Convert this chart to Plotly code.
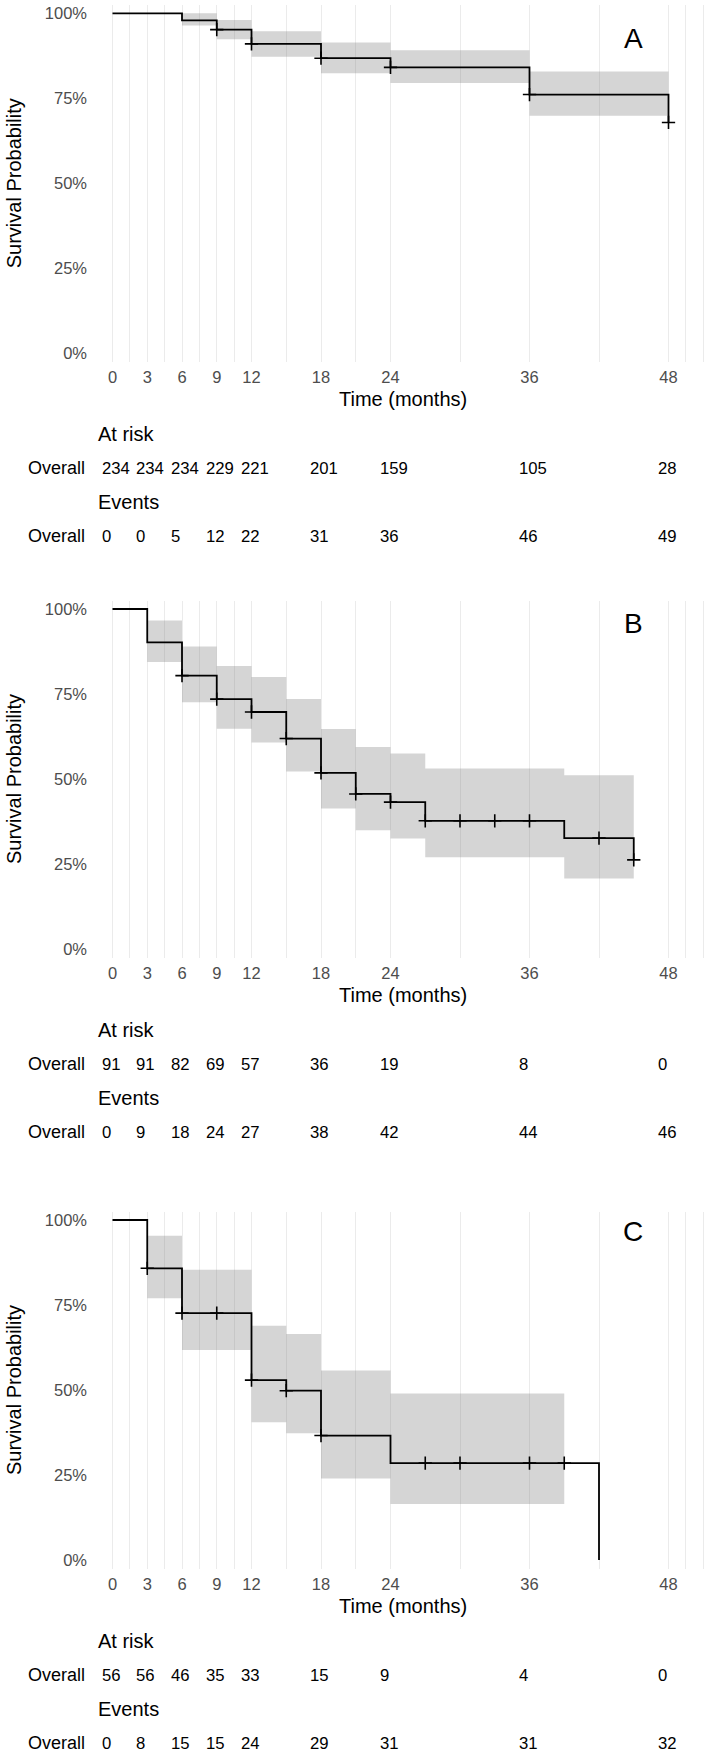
import plotly.graph_objects as go

W, H = 709, 1753

# ---------------- data ----------------
table_times = [0, 3, 6, 9, 12, 18, 24, 36, 48]
major_breaks = [0, 3, 6, 9, 12, 18, 24, 36, 48]
minor_breaks = [1.5, 4.5, 7.5, 10.5, 15, 21, 30, 42, 49.5, 51]
y_ticks = [0, 0.25, 0.5, 0.75, 1.0]
y_ticktext = ["0%", "25%", "50%", "75%", "100%"]

# Panel A
a_time = [0, 6, 9, 12, 18, 24, 36, 48]
a_surv = [1.0, 0.979, 0.952, 0.910, 0.868, 0.841, 0.761, 0.679]
a_ci_time = [6, 9, 12, 18, 24, 36]
a_ci_upper = [1.0, 0.980, 0.947, 0.914, 0.891, 0.829]
a_ci_lower = [0.964, 0.924, 0.872, 0.824, 0.795, 0.699]
a_ci_end = 48
a_censor = [9, 12, 18, 24, 36, 48]
a_risk = [234, 234, 234, 229, 221, 201, 159, 105, 28]
a_events = [0, 0, 5, 12, 22, 31, 36, 46, 49]

# Panel B
b_time = [0, 3, 6, 9, 12, 15, 18, 21, 24, 27, 39, 45]
b_surv = [1.0, 0.902, 0.804, 0.735, 0.697, 0.619, 0.518, 0.456, 0.432, 0.377, 0.326, 0.262]
b_ci_time = [3, 6, 9, 12, 15, 18, 21, 24, 27, 39]
b_ci_upper = [0.966, 0.890, 0.832, 0.800, 0.735, 0.647, 0.594, 0.575, 0.531, 0.511]
b_ci_lower = [0.844, 0.726, 0.648, 0.607, 0.522, 0.413, 0.349, 0.325, 0.270, 0.207]
b_ci_end = 45
b_censor = [6, 9, 12, 15, 18, 21, 24, 27, 30, 33, 36, 42, 45]
b_risk = [91, 91, 82, 69, 57, 36, 19, 8, 0]
b_events = [0, 9, 18, 24, 27, 38, 42, 44, 46]

# Panel C
c_time = [0, 3, 6, 12, 15, 18, 24, 42]
c_surv = [1.0, 0.858, 0.726, 0.529, 0.498, 0.366, 0.285, 0.0]
c_ci_time = [3, 6, 12, 15, 18, 24]
c_ci_upper = [0.954, 0.854, 0.689, 0.665, 0.557, 0.490]
c_ci_lower = [0.770, 0.618, 0.405, 0.373, 0.240, 0.165]
c_ci_end = 39
c_censor = [3, 6, 9, 12, 15, 18, 27, 30, 36, 39]
c_risk = [56, 56, 46, 35, 33, 15, 9, 4, 0]
c_events = [0, 8, 15, 15, 24, 29, 31, 31, 32]

panel_labels = ["A", "B", "C"]

panels = [
    dict(time=a_time, surv=a_surv, ci_time=a_ci_time, ci_upper=a_ci_upper, ci_lower=a_ci_lower,
         ci_end=a_ci_end, censor=a_censor, risk=a_risk, events=a_events),
    dict(time=b_time, surv=b_surv, ci_time=b_ci_time, ci_upper=b_ci_upper, ci_lower=b_ci_lower,
         ci_end=b_ci_end, censor=b_censor, risk=b_risk, events=b_events),
    dict(time=c_time, surv=c_surv, ci_time=c_ci_time, ci_upper=c_ci_upper, ci_lower=c_ci_lower,
         ci_end=c_ci_end, censor=c_censor, risk=c_risk, events=c_events),
]

# ---------------- layout constants ----------------
FONT = "Liberation Sans, Arial, Helvetica, sans-serif"
panel_y100 = [13.3, 609.0, 1220.0]   # pixel row of the 100% level in each panel
PX_PER_UNIT = 340.0                  # pixels from 0% to 100%
Y_LO, Y_HI = -0.025, 1.025
PLOT_LEFT = 97.0
X0_PX, X48_PX = 112.5, 668.5
px_per_month = (X48_PX - X0_PX) / 48.0
X_LO = -(X0_PX - PLOT_LEFT) / px_per_month
X_HI = (W - X0_PX) / px_per_month
GRID = "#EBEBEB"
TICK_COL = "#4D4D4D"


def step_at(times, surv, t):
    v = surv[0]
    for tt, s in zip(times, surv):
        if tt <= t:
            v = s
    return v


def py(px):
    return 1 - px / H


fig = go.Figure()
annotations = []
layout_axes = {}

for i, p in enumerate(panels):
    n = "" if i == 0 else str(i + 1)
    xa, ya = "x" + n, "y" + n
    y100 = panel_y100[i]
    top_px = y100 - (Y_HI - 1.0) * PX_PER_UNIT
    bot_px = y100 + (1.0 - Y_LO) * PX_PER_UNIT

    # confidence band
    bx = p["ci_time"] + [p["ci_end"]]
    bu = p["ci_upper"] + [p["ci_upper"][-1]]
    bl = p["ci_lower"] + [p["ci_lower"][-1]]
    fig.add_trace(go.Scatter(x=bx, y=bu, mode="lines", xaxis=xa, yaxis=ya,
                             line=dict(width=0, shape="hv", color="rgba(0,0,0,0)"),
                             showlegend=False, hoverinfo="skip"))
    fig.add_trace(go.Scatter(x=bx, y=bl, mode="lines", xaxis=xa, yaxis=ya,
                             line=dict(width=0, shape="hv", color="rgba(0,0,0,0)"),
                             fill="tonexty", fillcolor="rgba(128,128,128,0.33)",
                             showlegend=False, hoverinfo="skip"))
    # survival curve
    fig.add_trace(go.Scatter(x=p["time"], y=p["surv"], mode="lines", xaxis=xa, yaxis=ya,
                             line=dict(color="black", width=1.8, shape="hv"),
                             showlegend=False))
    # censor marks
    cy = [step_at(p["time"], p["surv"], t) for t in p["censor"]]
    fig.add_trace(go.Scatter(x=p["censor"], y=cy, mode="markers", xaxis=xa, yaxis=ya,
                             marker=dict(symbol="cross-thin", size=9.5, color="black",
                                         line=dict(color="black", width=1.6)),
                             showlegend=False))

    layout_axes["xaxis" + n] = dict(
        domain=[PLOT_LEFT / W, 1.0], range=[X_LO, X_HI], anchor=ya,
        tickmode="array", tickvals=major_breaks, ticktext=[str(v) for v in major_breaks],
        showgrid=True, gridcolor=GRID, gridwidth=1.2, zeroline=False, showline=False,
        ticks="", tickfont=dict(family=FONT, size=16.5, color=TICK_COL),
        ticklabelstandoff=4,
        minor=dict(tickmode="array", tickvals=minor_breaks, showgrid=True,
                   gridcolor=GRID, gridwidth=1.0, ticks=""),
        fixedrange=True,
    )
    layout_axes["yaxis" + n] = dict(
        domain=[py(bot_px), py(top_px)], range=[Y_LO, Y_HI], anchor=xa,
        tickmode="array", tickvals=y_ticks, ticktext=y_ticktext,
        showgrid=False, zeroline=False, showline=False, ticks="",
        tickfont=dict(family=FONT, size=16.5, color=TICK_COL),
        ticklabelstandoff=9, fixedrange=True,
    )

    # axis titles
    annotations.append(dict(text="Survival Probability", x=14 / W, y=py(y100 + 170),
                            xref="paper", yref="paper", textangle=-90, showarrow=False,
                            xanchor="center", yanchor="middle",
                            font=dict(family=FONT, size=20, color="black")))
    annotations.append(dict(text="Time (months)", x=(PLOT_LEFT + W) / 2 / W, y=py(y100 + 386),
                            xref="paper", yref="paper", showarrow=False,
                            xanchor="center", yanchor="middle",
                            font=dict(family=FONT, size=20, color="black")))
    # panel letter
    annotations.append(dict(text=panel_labels[i], x=633 / W,
                            y=py([38, 623, 1231][i]), xref="paper", yref="paper",
                            showarrow=False, xanchor="center", yanchor="middle",
                            font=dict(family=FONT, size=28, color="black")))

    # risk / event tables
    for title, vals, off_title, off_row in (("At risk", p["risk"], 421, 455),
                                            ("Events", p["events"], 489, 523)):
        annotations.append(dict(text=title, x=96 / W, y=py(y100 + off_title),
                                xref="paper", yref="paper", showarrow=False,
                                xanchor="left", yanchor="middle",
                                font=dict(family=FONT, size=20, color="black")))
        annotations.append(dict(text="Overall", x=87 / W, y=py(y100 + off_row),
                                xref="paper", yref="paper", showarrow=False,
                                xanchor="right", yanchor="middle",
                                font=dict(family=FONT, size=18, color="black")))
        for t, v in zip(table_times, vals):
            annotations.append(dict(text=str(v), x=t, y=py(y100 + off_row),
                                    xref=xa, yref="paper", showarrow=False,
                                    xanchor="left", yanchor="middle", xshift=-13,
                                    font=dict(family=FONT, size=16.7, color="black")))

fig.update_layout(
    width=W, height=H,
    margin=dict(l=0, r=0, t=0, b=0),
    paper_bgcolor="white", plot_bgcolor="white",
    showlegend=False,
    annotations=annotations,
    font=dict(family=FONT),
    **layout_axes,
)

fig.write_html("out.html")
